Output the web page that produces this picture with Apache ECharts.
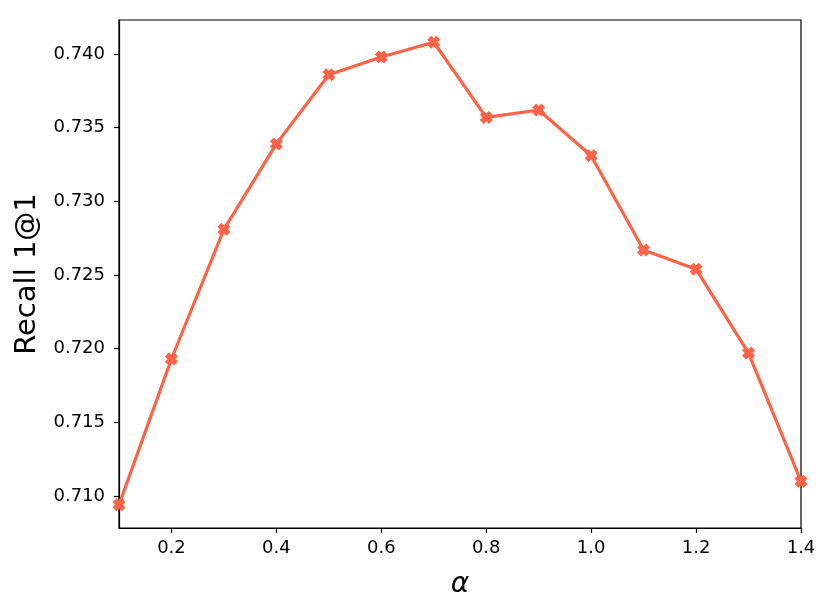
<!DOCTYPE html>
<html>
<head>
<meta charset="utf-8">
<script src="https://cdn.jsdelivr.net/npm/echarts@6/dist/echarts.min.js"></script>
<style>html,body{margin:0;padding:0;background:#fff;}#chart{width:830px;height:611px;}</style>
</head>
<body>
<div id="chart"></div>
<script>
const alphaValues = [0.1, 0.2, 0.3, 0.4, 0.5, 0.6, 0.7, 0.8, 0.9, 1.0, 1.1, 1.2, 1.3, 1.4];
const recallValues = [0.7094, 0.7193, 0.7281, 0.7339, 0.7386, 0.7398, 0.7408, 0.7357, 0.7362, 0.7331, 0.7267, 0.7254, 0.7197, 0.7110];
const xTicks = [0.2, 0.4, 0.6, 0.8, 1.0, 1.2, 1.4];
const yTicks = [0.710, 0.715, 0.720, 0.725, 0.730, 0.735, 0.740];

const xMarker = 'path://M3,0 L5,2 L7,0 L10,3 L8,5 L10,7 L7,10 L5,8 L3,10 L0,7 L2,5 L0,3 Z';
const chart = echarts.init(document.getElementById('chart'), null, {renderer: 'canvas'});
const font = 'DejaVu Sans';
chart.setOption({
  animation: false,
  backgroundColor: '#fff',
  grid: {left: 119, right: 29, top: 20, bottom: 83, show: true, borderColor: '#000', borderWidth: 1.2, backgroundColor: 'transparent', containLabel: false, outerBoundsMode: 'none'},
  xAxis: {
    type: 'value', min: 0.1, max: 1.4,
    name: 'α', nameLocation: 'middle', nameGap: 43,
    nameTextStyle: {fontFamily: font, fontSize: 28, fontStyle: 'italic', color: '#000'},
    axisLine: {show: true, lineStyle: {color: '#000', width: 1.2}},
    axisTick: {show: true, length: 5, lineStyle: {color: '#000', width: 1.2}, customValues: xTicks},
    axisLabel: {fontFamily: font, fontSize: 18, color: '#000', margin: 11, customValues: xTicks, formatter: v => v.toFixed(1)},
    splitLine: {show: false}
  },
  yAxis: {
    type: 'value', min: 0.70783, max: 0.74231,
    name: 'Recall 1@1', nameLocation: 'middle', nameGap: 77,
    nameTextStyle: {fontFamily: font, fontSize: 29, color: '#000'},
    axisLine: {show: true, lineStyle: {color: '#000', width: 1.2}},
    axisTick: {show: true, length: 5, lineStyle: {color: '#000', width: 1.2}, customValues: yTicks},
    axisLabel: {fontFamily: font, fontSize: 18, color: '#000', margin: 14, customValues: yTicks, formatter: v => v.toFixed(3)},
    splitLine: {show: false}
  },
  series: [{
    type: 'line',
    data: alphaValues.map((a, i) => [a, recallValues[i]]),
    color: '#FF6347',
    lineStyle: {width: 3.2, color: '#FF6347'},
    symbol: xMarker, symbolSize: 13, showAllSymbol: true,
    itemStyle: {color: '#FF6347'},
    clip: true
  }]
});
</script>
</body>
</html>
